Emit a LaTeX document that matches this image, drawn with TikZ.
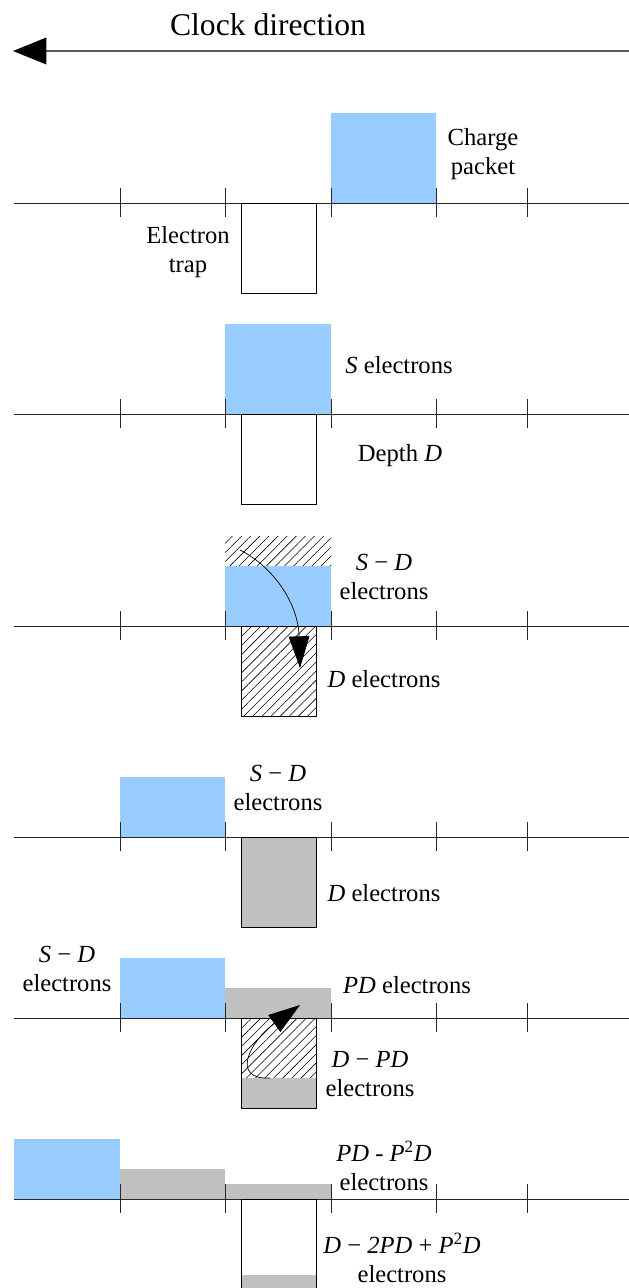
\documentclass[tikz,border=0pt]{standalone}
\usepackage{fontspec}
\setmainfont{Liberation Serif}
\usetikzlibrary{arrows.meta, patterns.meta}
\definecolor{packetblue}{RGB}{153,204,255}
\definecolor{leftgray}{RGB}{192,192,192}

\begin{document}
\begin{tikzpicture}[
    x=0.03cm, y=-0.03cm,
    % Styles for the strips
    axis/.style={draw=black!85, line width=0.8pt},
    tick_mark/.style={draw=black!85, line width=0.8pt},
    packet/.style={fill=packetblue},
    leftover/.style={fill=leftgray},
    trap/.style={draw=black, line width=0.8pt},
    hatch/.style={pattern={Lines[angle=45, distance=5.5pt, line width=0.5pt]}},
    lbl/.style={font=\fontsize{21}{25}\selectfont, align=center, inner sep=0pt},
    % Arrow styles
    clock_arrow/.style={-{Triangle[length=1.0cm, width=0.8cm, black]}, draw=black!65, line width=1.2pt},
    move_arrow/.style={-{Triangle[length=0.95cm, width=0.62cm]}, line width=0.6pt}
]
    \useasboundingbox (0,0) rectangle (629,1288);

    % ==================== Clock direction ====================
    \node (title) at (268,25) [font=\fontsize{27}{30}\selectfont, inner sep=0pt] {Clock direction};
    \coordinate (clock_start) at (629,51);
    \coordinate (clock_end) at (13,51);
    \draw [clock_arrow] (clock_start) -- (clock_end);

    % ==================== Charges (filled first) ====================
    % Strip 1: packet before the trap
    \fill [packet] (331,113) rectangle (436,203);
    % Strip 2: packet above the trap
    \fill [packet] (225,324) rectangle (331,414);
    % Strip 3: D electrons fall into the trap
    \fill [hatch] (225,536) rectangle (331,566);
    \fill [packet] (225,566) rectangle (331,626);
    \fill [hatch] (241,626) rectangle (316,716);
    % Strip 4: trap full
    \fill [packet] (120,777) rectangle (225,837);
    \fill [leftover] (241,837) rectangle (316,927);
    % Strip 5: trap releases PD electrons
    \fill [packet] (120,958) rectangle (225,1018);
    \fill [leftover] (225,988) rectangle (331,1018);
    \fill [hatch] (241,1018) rectangle (316,1078);
    \fill [leftover] (241,1078) rectangle (316,1108);
    % Strip 6: next release
    \fill [packet] (14,1139) rectangle (120,1199);
    \fill [leftover] (120,1169) rectangle (225,1199);
    \fill [leftover] (225,1184) rectangle (331,1199);
    \fill [leftover] (241,1275) rectangle (316,1290);

    % ==================== Axes, ticks and traps ====================
    \foreach \ay in {203,414,626,837,1018,1199} {
        \draw [axis] (14,\ay) -- (629,\ay);
        \foreach \tx in {120,225,331,436,527}
            \draw [tick_mark] (\tx,\ay-15) -- (\tx,\ay+14);
        \draw [trap] (241,\ay) rectangle (316,\ay+90);
    }

    % ==================== Labels ====================
    \node (packet_lbl) at (483,154) [lbl] {Charge\\packet};
    \node (trap_lbl) at (188,252) [lbl] {Electron\\trap};

    \node (s_lbl) at (399,365) [lbl] {\textit{S} electrons};
    \node (depth_lbl) at (400,456) [lbl] {Depth \textit{D}};

    \node (sd_lbl3) at (384,577) [lbl] {\textit{S} − \textit{D}\\electrons};
    \node (d_lbl3) at (384,679) [lbl] {\textit{D} electrons};

    \node (sd_lbl4) at (278,788) [lbl] {\textit{S} − \textit{D}\\electrons};
    \node (d_lbl4) at (384,893) [lbl] {\textit{D} electrons};

    \node (sd_lbl5) at (67,969) [lbl] {\textit{S} − \textit{D}\\electrons};
    \node (pd_lbl5) at (407,985) [lbl] {\textit{PD} electrons};
    \node (dpd_lbl5) at (370,1074) [lbl] {\textit{D} − \textit{PD}\\electrons};

    \node (pd_lbl6) at (384,1166) [lbl] {\textit{PD} - \textit{P}\textsuperscript{2}\textit{D}\\electrons};
    \node (dpd_lbl6) at (402,1258) [lbl] {\textit{D} − \textit{2PD} + \textit{P}\textsuperscript{2}\textit{D}\\electrons};

    % ==================== Electron moves ====================
    \coordinate (capture_start) at (240,550);
    \coordinate (capture_end) at (300,668);
    \draw [move_arrow] (capture_start) .. controls +(30,15) and +(-2,-68) .. (capture_end);

    \coordinate (release_start) at (270,1078);
    \coordinate (release_end) at (300,1005);
    \draw [move_arrow] (release_start) .. controls +(-40,2) and +(-50,36) .. (release_end);

\end{tikzpicture}
\end{document}
